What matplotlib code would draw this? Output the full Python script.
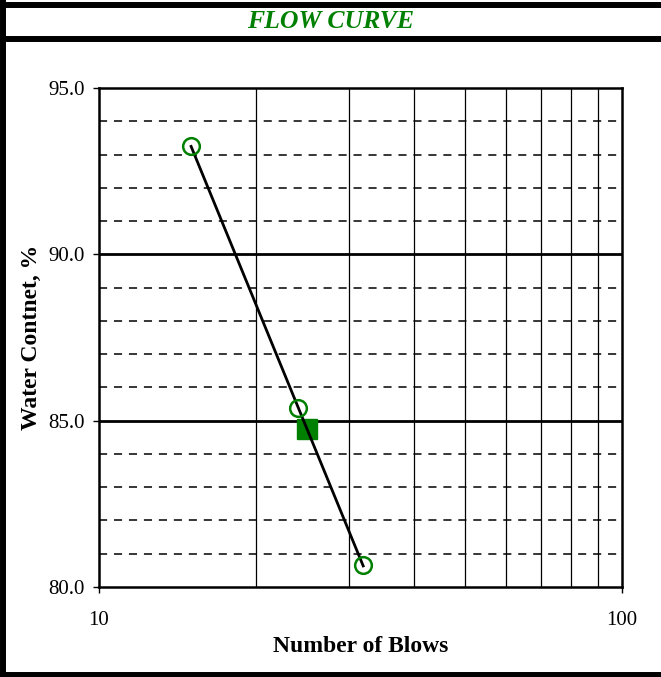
import numpy as np
import matplotlib.pyplot as plt
from matplotlib.lines import Line2D
from matplotlib.ticker import FixedLocator, NullFormatter

plt.rcParams['font.family'] = ['Liberation Serif', 'DejaVu Serif']

# 试验数据
blows = [15, 24, 32]
water_content = [93.26, 85.38, 80.66]
LL_BLOWS = 25

GREEN = '#008000'

fig = plt.figure(figsize=(6.61, 6.77), dpi=100, facecolor='white')
ax = fig.add_axes([99 / 661, 1 - 587 / 677, (622 - 99) / 661, (587 - 88) / 677])

# 外框与标题栏
for y in [1 - 4.8 / 677, 1 - 39 / 677, 1 - 675 / 677]:
    fig.add_artist(Line2D([0, 1], [y, y], color='black', lw=4.3, transform=fig.transFigure))
fig.add_artist(Line2D([3 / 661, 3 / 661], [0, 1], color='black', lw=4.3, transform=fig.transFigure))
fig.text(0.5, 1 - 21.5 / 677, 'FLOW CURVE', color=GREEN, fontsize=18.5, fontweight='bold',
         fontstyle='italic', ha='center', va='center')

# 网格
ax.set_xscale('log')
ax.set_xlim(10, 100)
ax.set_ylim(80, 95)
for x in range(20, 100, 10):
    ax.axvline(x, color='black', lw=0.9, zorder=1)
for y in range(81, 95):
    if y % 5 == 0:
        ax.axhline(y, color='black', lw=2, zorder=1)
    else:
        ax.axhline(y, color='black', lw=1.1, ls=(0, (5.3, 4.5)), zorder=1)

# 拟合流动曲线 (对数坐标线性回归)
k, b = np.polyfit(np.log10(blows), water_content, 1)
xs = np.array([min(blows), max(blows)])
ax.plot(xs, k * np.log10(xs) + b, color='black', lw=2, zorder=3)
ax.plot(blows, water_content, 'o', mfc='none', mec=GREEN, mew=1.8, ms=12, zorder=4)
ll = k * np.log10(LL_BLOWS) + b
ax.plot([LL_BLOWS], [ll], 's', color=GREEN, ms=15, zorder=2.5)

ax.set_yticks([80, 85, 90, 95])
ax.set_yticklabels([f'{v:.1f}' for v in [80, 85, 90, 95]], fontsize=15)
ax.set_xticks([10, 100])
ax.set_xticklabels(['10', '100'], fontsize=15)
ax.xaxis.set_minor_locator(FixedLocator([]))
ax.xaxis.set_minor_formatter(NullFormatter())
ax.tick_params(axis='x', which='major', length=4.5, width=1, pad=13)
ax.tick_params(axis='y', which='major', length=4.5, width=1, pad=6)

ax.set_xlabel('Number of Blows', fontsize=17, fontweight='bold', labelpad=4)
ax.set_ylabel('Water Contnet, %', fontsize=17, fontweight='bold', labelpad=4)

for s in ax.spines.values():
    s.set_linewidth(1.8)
    s.set_zorder(5)

plt.savefig('out.png', dpi=100)
